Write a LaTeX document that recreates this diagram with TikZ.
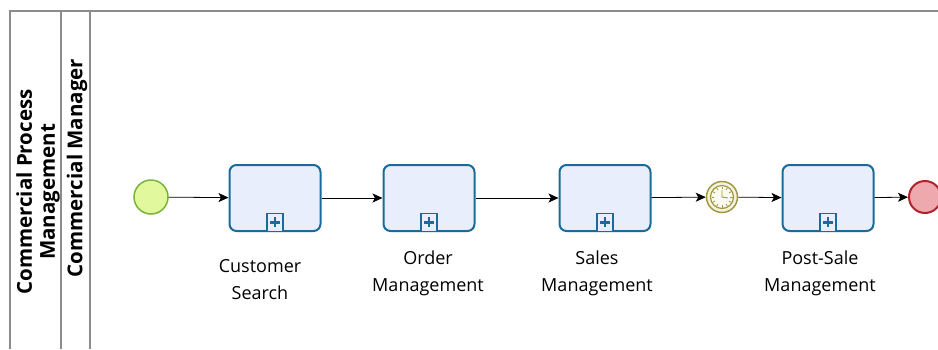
\documentclass[tikz,border=0pt]{standalone}
\usepackage{fontspec}
\setmainfont{Open Sans}
\usepackage{tikz}
\usetikzlibrary{arrows.meta,positioning,calc}

\definecolor{taskfill}{HTML}{E9EEFC}
\definecolor{taskline}{HTML}{1A6A9A}
\definecolor{startfill}{HTML}{E2F89C}
\definecolor{startline}{HTML}{7AB33A}
\definecolor{timerfill}{HTML}{F6F3DC}
\definecolor{timerline}{HTML}{A09845}
\definecolor{endfill}{HTML}{EDA9AE}
\definecolor{endline}{HTML}{B0232C}
\definecolor{laneline}{HTML}{8C8C8C}

\begin{document}
\begin{tikzpicture}[
  x=1pt, y=-1pt,
  >={Stealth[length=10pt,width=9pt,inset=2.5pt]},
  every node/.style={font=\fontsize{18}{27}\selectfont},
  task/.style={draw=taskline, fill=taskfill, line width=2pt, rounded corners=7pt,
    minimum width=91pt, minimum height=66pt, inner sep=0pt},
  plusbox/.style={draw=taskline, fill=taskfill, line width=1.2pt,
    minimum width=16pt, minimum height=18pt, inner sep=0pt, anchor=south},
  startev/.style={circle, draw=startline, fill=startfill, line width=1.5pt, minimum size=34pt},
  endev/.style={circle, draw=endline, fill=endfill, line width=2pt, minimum size=32pt},
  timerev/.style={circle, draw=timerline, fill=timerfill, line width=1.5pt, minimum size=31pt},
  lanetitle/.style={rotate=90, align=center, font=\fontsize{20.5}{23}\selectfont\bfseries},
  tasklabel/.style={align=center, anchor=north},
  flow/.style={->, line width=0.8pt}
]

\useasboundingbox (0,0) rectangle (938,349);

% Pool and lane
\draw[laneline, line width=1.4pt] (10,349) -- (10,11) -- (938,11);
\draw[laneline, line width=1.4pt] (61,11) -- (61,349);
\draw[laneline, line width=1.4pt] (90,11) -- (90,349);
\node[lanetitle] (pool) at (38,192) {Commercial Process\\Management};
\node[lanetitle] (lane) at (77,168) {Commercial Manager};

% Events and tasks
\node[startev] (start) at (151,197) {};
\node[task] (search) at (275,198) {};
\node[task] (order) at (429,198) {};
\node[task] (sales) at (605,198) {};
\node[timerev] (timer) at (722,197) {};
\node[task] (postsale) at (828,198) {};
\node[endev] (end) at (925,197) {};

% Collapsed sub-process markers
\foreach \t in {search,order,sales,postsale}{
  \node[plusbox] (\t-plus) at (\t.south) {};
  \draw[taskline, line width=2.6pt] ($(\t-plus.center)+(-5,0)$) -- ($(\t-plus.center)+(5,0)$);
  \draw[taskline, line width=2.6pt] ($(\t-plus.center)+(0,-5)$) -- ($(\t-plus.center)+(0,5)$);
}

% Timer face
\draw[timerline, line width=1.2pt, fill=white!60!timerfill] (timer.center) circle (11.5pt);
\foreach \a in {0,30,...,330}
  \draw[timerline, line width=0.8pt] ($(timer.center)+(\a:8pt)$) -- ($(timer.center)+(\a:10.5pt)$);
\draw[timerline, line width=0.9pt] ($(timer.center)+(0,-7)$) -- (timer.center) -- ($(timer.center)+(6,1)$);

% Labels
\node[tasklabel] (search-lbl) at (260,256) {Customer\\Search};
\node[tasklabel] (order-lbl) at (428,247) {Order\\Management};
\node[tasklabel] (sales-lbl) at (597,247) {Sales\\Management};
\node[tasklabel] (postsale-lbl) at (820,247) {Post-Sale\\Management};

% Sequence flows
\draw[flow] (start) -- (search);
\draw[flow] (search) -- (order);
\draw[flow] (order) -- (sales);
\draw[flow] (sales) -- (timer);
\draw[flow] (timer) -- (postsale);
\draw[flow] (postsale) -- (end);

\end{tikzpicture}
\end{document}
